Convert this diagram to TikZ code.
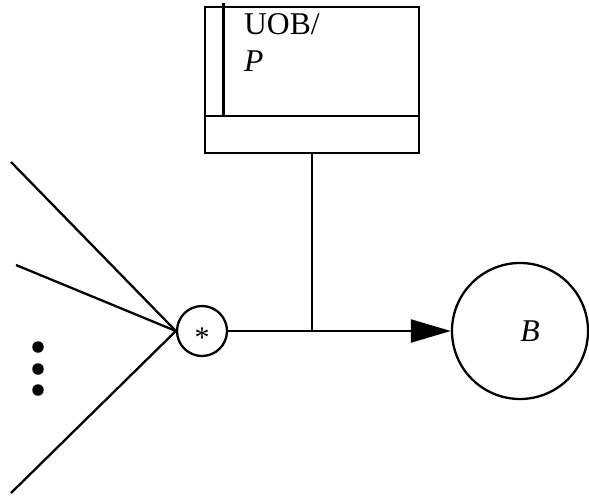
\documentclass[tikz,border=0pt]{standalone}
\usepackage{fontspec}
\setmainfont{Liberation Serif}
\usepackage{tikz}
\usetikzlibrary{arrows.meta, positioning, calc}

\begin{document}
\begin{tikzpicture}[line width=1.3pt,
    store/.style={rectangle, draw, minimum width=4.28cm, minimum height=2.92cm, inner sep=0pt},
    junction/.style={circle, draw, minimum size=1.0cm, inner sep=0pt},
    place/.style={circle, draw, minimum size=2.72cm, inner sep=0pt},
    dot/.style={circle, fill, minimum size=0.23cm, inner sep=0pt},
    flow/.style={-{Triangle[length=0.8cm, width=0.46cm]}}]

    % frame of the page
    \useasboundingbox (0,0) rectangle (11.78,-9.9);

    % Store box
    \node[store] (uob) at (6.24,-1.6) {};
    \draw ($(uob.north west)+(0.39,0.05)$) -- ($(uob.north west)+(0.39,-2.34+0.134)$) coordinate (divtop);
    \draw (uob.west |- divtop) -- (uob.east |- divtop);
    \node[anchor=base west, inner sep=0pt, align=left, font=\fontsize{18}{20.5}\selectfont] (uoblabel) at (4.86,-1.42) {UOB/\\\textit{P}};

    % Combination and target
    \node[junction, label={[font=\fontsize{17}{20}\selectfont, yshift=-3.6pt]center:*}] (star) at (4.04,-6.62) {};
    \node[place, label={[font=\fontsize{18}{20}\selectfont\itshape, xshift=0.2cm]center:B}] (b) at (10.4,-6.62) {};

    % Inputs
    \coordinate (in1) at (0.22,-3.24);
    \coordinate (in2) at (0.32,-5.3);
    \coordinate (in3) at (0.22,-9.86);
    \foreach \y [count=\i] in {-6.94,-7.38,-7.80}
        \node[dot] (dot\i) at (0.76,\y) {};

    % Connections
    \draw (in1) -- (star.west);
    \draw (in2) -- (star.west);
    \draw (in3) -- (star.west);
    \draw[flow] (star.east) -- (b.west);
    \draw (uob.south) -- (uob.south |- star.east);
\end{tikzpicture}
\end{document}
